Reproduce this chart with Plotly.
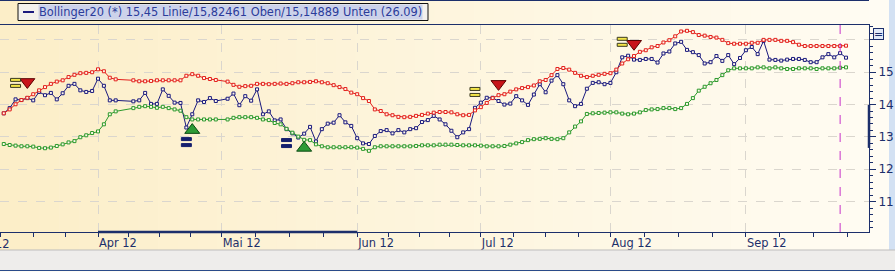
import numpy as np
import pandas as pd
import plotly.graph_objects as go

# ---------------- data ----------------
holidays = ["2012-04-06", "2012-04-09", "2012-05-01"]
all_days = pd.bdate_range("2012-03-09", "2012-09-26")
dates = [d.strftime("%Y-%m-%d") for d in all_days if d.strftime("%Y-%m-%d") not in holidays]

linie = [
    13.73, 13.89, 14.16, 14.14, 14.20, 14.13, 14.39, 14.29, 14.36, 14.16,
    14.35, 14.58, 14.64, 14.44, 14.39, 14.42, 14.80, 14.58, 14.13, 14.13,
    14.10, 14.13, 14.36, 14.02, 14.02, 14.47, 14.27, 14.06, 14.05, 13.29,
    13.70, 14.13, 14.08, 14.20, 14.11,
    14.18, 14.34, 13.98, 14.26, 14.12, 14.47, 13.70, 13.79, 13.51, 13.54,
    13.24, 13.11, 12.98, 13.10, 13.31, 12.86, 13.24, 13.41, 13.44, 13.67,
    13.45, 13.34, 12.96, 12.80, 12.78, 13.03, 13.18, 13.21, 13.11, 13.21,
    13.14, 13.24, 13.27, 13.46, 13.52, 13.65, 13.54, 13.39, 13.19, 12.99,
    13.14, 13.24, 13.90, 14.06, 14.21, 14.21, 14.11, 14.00, 14.03, 14.26,
    14.13, 13.99, 14.31, 14.63, 14.38, 14.74, 14.91, 14.63, 14.13, 13.95,
    14.02, 14.49, 14.67, 14.69, 14.63, 14.67, 15.00, 15.46, 15.51, 15.39,
    15.38, 15.41, 15.41, 15.30, 15.58, 15.64, 15.89, 15.94, 15.69, 15.62,
    15.53, 15.27, 15.31, 15.50, 15.35, 15.53, 15.25, 15.44, 15.68, 15.78,
    15.56, 15.97, 15.39, 15.38, 15.36, 15.39, 15.41, 15.41, 15.38, 15.31,
    15.31, 15.46, 15.56, 15.46, 15.59, 15.45,
]
oben = [
    13.73, 13.85, 14.01, 14.14, 14.21, 14.32, 14.44, 14.54, 14.64, 14.71,
    14.75, 14.85, 14.92, 14.97, 14.98, 15.00, 15.09, 15.03, 14.83, 14.78,
    14.75, 14.72, 14.72, 14.73, 14.75, 14.75, 14.75, 14.75, 14.75, 14.89,
    14.94, 14.89, 14.82, 14.79, 14.76,
    14.71, 14.61, 14.55, 14.57, 14.58, 14.64, 14.64, 14.63, 14.64, 14.65,
    14.64, 14.66, 14.69, 14.69, 14.70, 14.72, 14.69, 14.66, 14.60, 14.54,
    14.48, 14.37, 14.32, 14.20, 14.11, 13.85, 13.80, 13.70, 13.67, 13.62,
    13.61, 13.62, 13.65, 13.68, 13.72, 13.75, 13.77, 13.77, 13.76, 13.70,
    13.67, 13.68, 13.82, 13.92, 14.05, 14.20, 14.29, 14.32, 14.40, 14.47,
    14.51, 14.54, 14.59, 14.72, 14.76, 14.91, 15.10, 15.13, 15.08, 14.98,
    14.89, 14.85, 14.89, 14.92, 14.95, 14.97, 15.08, 15.27, 15.40, 15.50,
    15.63, 15.68, 15.77, 15.81, 15.92, 15.99, 16.11, 16.26, 16.28, 16.24,
    16.15, 16.13, 16.09, 16.07, 16.00, 15.90, 15.88, 15.88, 15.88, 15.91,
    15.91, 16.00, 16.00, 16.00, 15.97, 15.97, 15.93, 15.85, 15.81, 15.81,
    15.81, 15.81, 15.81, 15.81, 15.81, 15.82,
]
unten = [
    12.78, 12.75, 12.73, 12.71, 12.71, 12.70, 12.66, 12.65, 12.67, 12.72,
    12.77, 12.83, 12.87, 12.99, 13.05, 13.12, 13.17, 13.39, 13.70, 13.79,
    13.89, 13.93, 13.95, 13.93, 13.90, 13.93, 13.89, 13.85, 13.81, 13.61,
    13.54, 13.54, 13.54, 13.54, 13.54,
    13.54, 13.59, 13.61, 13.61, 13.61, 13.59, 13.54, 13.52, 13.43, 13.39,
    13.25, 13.13, 13.01, 12.91, 12.90, 12.77, 12.71, 12.68, 12.68, 12.68,
    12.68, 12.68, 12.67, 12.63, 12.57, 12.68, 12.71, 12.71, 12.71, 12.71,
    12.71, 12.71, 12.72, 12.74, 12.74, 12.74, 12.76, 12.76, 12.76, 12.75,
    12.74, 12.74, 12.74, 12.73, 12.71, 12.71, 12.71, 12.72, 12.76, 12.80,
    12.84, 12.90, 12.93, 12.94, 12.96, 12.94, 12.93, 12.96, 13.14, 13.32,
    13.48, 13.71, 13.73, 13.74, 13.75, 13.76, 13.76, 13.72, 13.70, 13.72,
    13.76, 13.83, 13.85, 13.86, 13.89, 13.89, 13.86, 13.89, 14.02, 14.20,
    14.43, 14.55, 14.66, 14.76, 14.91, 15.06, 15.12, 15.12, 15.12, 15.12,
    15.15, 15.15, 15.12, 15.15, 15.12, 15.10, 15.10, 15.12, 15.12, 15.12,
    15.10, 15.12, 15.12, 15.12, 15.14, 15.15,
]

sell_dates = ["2012-03-15", "2012-07-05", "2012-08-07"]
sell_values = [14.70, 14.64, 15.88]
buy_dates = ["2012-04-24", "2012-05-21"]
buy_values = [13.21, 12.66]
sell_icon_dates = ["2012-03-13", "2012-06-29", "2012-08-03"]
sell_icon_values = [14.67, 14.39, 15.94]
buy_icon_dates = ["2012-04-23", "2012-05-16"]
buy_icon_values = [12.84, 12.81]

month_ticks = ["2012-04-02", "2012-05-01", "2012-06-01", "2012-07-02", "2012-08-01", "2012-09-03"]
month_labels = ["Apr 12", "Mai 12", "Jun 12", "Jul 12", "Aug 12", "Sep 12"]
first_month_label = "Mär 12"
y_tickvals = [11, 12, 13, 14, 15, 16]
y_ticktext = ["11", "12", "13", "14", "15", ""]
date_line = "2012-09-25"
legend_text = "Bollinger20 (*) 15,45 Linie/15,82461 Oben/15,14889 Unten (26.09)"

# ---------------- layout helpers ----------------
W, H = 895, 272
ML, MR, MT, MB = 0, 26, 25, 40
PW, PH = W - ML - MR, H - MT - MB


def px(X):
    return (X - ML) / PW


def py(Y):
    return (H - MB - Y) / PH


NAVY = "#1C2F6B"
BLUE = "#1A1A7E"
RED = "#E3201C"
GREEN = "#2C9A2C"
GRID = "#DAD6CE"
FONT = "DejaVu Sans"
FS = 11.4

# minor x ticks: quarters of each month (in weekdays)
bounds = ["2012-03-01"] + month_ticks + ["2012-10-04"]
minor_vals = []
for a, b in zip(bounds[:-1], bounds[1:]):
    n = np.busday_count(a, b)
    for q in (1, 2, 3):
        v = n * q / 4.0
        whole = int(np.floor(v))
        frac = v - whole
        d = pd.Timestamp(str(np.busday_offset(a, whole, roll="forward"))) + pd.Timedelta(days=frac)
        minor_vals.append(d.strftime("%Y-%m-%d %H:%M"))

shapes = []
# background gradient
c0 = np.array([252, 238, 200])
c1 = np.array([255, 252, 243])
N = 45
bgw = 889
for i in range(N):
    t = i / (N - 1)
    c = (c0 + (c1 - c0) * t).round().astype(int)
    shapes.append(dict(type="rect", xref="paper", yref="paper",
                       x0=px(i * bgw / N), x1=px((i + 1) * bgw / N + 0.6),
                       y0=py(250), y1=py(0), fillcolor=f"rgb({c[0]},{c[1]},{c[2]})",
                       line=dict(width=0), layer="below"))
# right blue strip
shapes.append(dict(type="rect", xref="paper", yref="paper", x0=px(889), x1=px(896),
                   y0=py(250), y1=py(0), fillcolor="#D3E1F3", line=dict(width=0), layer="below"))
# grey bottom band
shapes.append(dict(type="rect", xref="paper", yref="paper", x0=px(0), x1=px(896),
                   y0=py(270), y1=py(250), fillcolor="#EEEDEB", line=dict(width=0), layer="below"))
shapes.append(dict(type="line", xref="paper", yref="paper", x0=px(0), x1=px(896),
                   y0=py(250), y1=py(250), line=dict(color="#BDBDBD", width=1)))
shapes.append(dict(type="line", xref="paper", yref="paper", x0=px(0), x1=px(896),
                   y0=py(270.5), y1=py(270.5), line=dict(color="#2A4A8A", width=1)))
# top line
shapes.append(dict(type="line", xref="paper", yref="paper", x0=px(0), x1=px(869),
                   y0=py(0.5), y1=py(0.5), line=dict(color=NAVY, width=1)))
# legend box
shapes.append(dict(type="rect", xref="paper", yref="paper", x0=px(18), x1=px(428),
                   y0=py(20.5), y1=py(3.5), fillcolor="#F3F1EC", line=dict(color="#111111", width=1)))
shapes.append(dict(type="line", xref="paper", yref="paper", x0=px(23), x1=px(34),
                   y0=py(12), y1=py(12), line=dict(color=BLUE, width=2)))
# date marker line
shapes.append(dict(type="line", xref="x", yref="paper", x0=date_line, x1=date_line,
                   y0=0, y1=1, line=dict(color="#C832C8", width=1, dash="dash")))
# scroll indicators on axes
shapes.append(dict(type="line", xref="x", yref="paper", x0=month_ticks[0], x1=month_ticks[2],
                   y0=0, y1=0, line=dict(color=NAVY, width=2.5)))
shapes.append(dict(type="line", xref="paper", yref="y", x0=1, x1=1,
                   y0=12.66, y1=13.99, line=dict(color=NAVY, width=2.5)))


def equal_icon(xd, yv, fill, outline):
    out = []
    for (b0, b1) in ((1.5, 4.5), (-4.5, -1.5)):
        out.append(dict(type="rect", xref="x", yref="y",
                        xsizemode="pixel", xanchor=xd, x0=-5, x1=5,
                        ysizemode="pixel", yanchor=yv, y0=b0, y1=b1,
                        fillcolor=fill, line=dict(color=outline, width=1), layer="above"))
    return out


for xd, yv in zip(sell_icon_dates, sell_icon_values):
    shapes += equal_icon(xd, yv, "#F4E648", "#3A3A20")
for xd, yv in zip(buy_icon_dates, buy_icon_values):
    shapes += equal_icon(xd, yv, "#16206E", "#16206E")

annotations = [
    dict(text=legend_text, xref="paper", yref="paper", x=px(38), y=py(12),
         xanchor="left", yanchor="middle", showarrow=False, bgcolor="#CCD2EA",
         borderpad=0, font=dict(family=FONT, size=FS, color="#2B3C9A")),
    # partially visible label of the previous month, cut by the left edge
    dict(text=first_month_label, xref="paper", yref="paper", x=px(-31.6), y=py(244),
         xanchor="left", yanchor="middle", showarrow=False,
         font=dict(family=FONT, size=FS, color=NAVY)),
    dict(text="=", xref="paper", yref="paper", x=px(878.5), y=py(34),
         xanchor="center", yanchor="middle", showarrow=False, bgcolor="#E2EAF7",
         bordercolor=NAVY, borderwidth=1, borderpad=0, width=9, height=10,
         font=dict(family=FONT, size=11, color=NAVY)),
]

fig = go.Figure()
marker_fill = "#FFF8EA"
for vals, col, nm in ((linie, BLUE, "Linie"), (unten, GREEN, "Unten"), (oben, RED, "Oben")):
    fig.add_trace(go.Scatter(x=dates, y=vals, mode="lines+markers", name=nm,
                             line=dict(color=col, width=1),
                             marker=dict(symbol="square", size=3, color=marker_fill,
                                         line=dict(color=col, width=1))))
fig.add_trace(go.Scatter(x=sell_dates, y=sell_values, mode="markers",
                         marker=dict(symbol="triangle-down", size=13, color="#C8141A",
                                     line=dict(color="#5A0000", width=1))))
fig.add_trace(go.Scatter(x=buy_dates, y=buy_values, mode="markers",
                         marker=dict(symbol="triangle-up", size=13, color="#2E9B36",
                                     line=dict(color="#0B4A12", width=1))))

fig.update_layout(
    width=W, height=H,
    margin=dict(l=ML, r=MR, t=MT, b=MB, pad=0),
    paper_bgcolor="#FFFCF4",
    plot_bgcolor="rgba(0,0,0,0)",
    showlegend=False,
    shapes=shapes,
    annotations=annotations,
    xaxis=dict(
        type="date",
        range=["2012-03-08 08:38", "2012-10-01 21:36"],
        rangebreaks=[dict(bounds=["sat", "mon"])],
        tickmode="array", tickvals=month_ticks, ticktext=month_labels,
        ticks="outside", ticklen=4, tickcolor=NAVY, tickwidth=1,
        ticklabelposition="outside right",
        tickfont=dict(family=FONT, size=FS, color=NAVY),
        showgrid=True, gridcolor=GRID, griddash="dash", gridwidth=1,
        showline=True, linecolor=NAVY, linewidth=1, mirror=True,
        zeroline=False,
        minor=dict(tickmode="array", tickvals=minor_vals, ticks="outside", ticklen=4,
                   tickcolor=NAVY, showgrid=False),
    ),
    yaxis=dict(
        side="right",
        range=[10.06, 16.46],
        tickmode="array", tickvals=y_tickvals, ticktext=y_ticktext,
        ticks="outside", ticklen=6, tickcolor=NAVY, tickwidth=1,
        tickfont=dict(family=FONT, size=FS + 0.6, color=NAVY),
        showgrid=True, gridcolor=GRID, griddash="dash", gridwidth=1,
        showline=True, linecolor=NAVY, linewidth=1,
        zeroline=False,
        minor=dict(dtick=0.2, tick0=11, ticks="outside", ticklen=3, tickcolor=NAVY, showgrid=False),
    ),
)

fig.write_html("out.html")
